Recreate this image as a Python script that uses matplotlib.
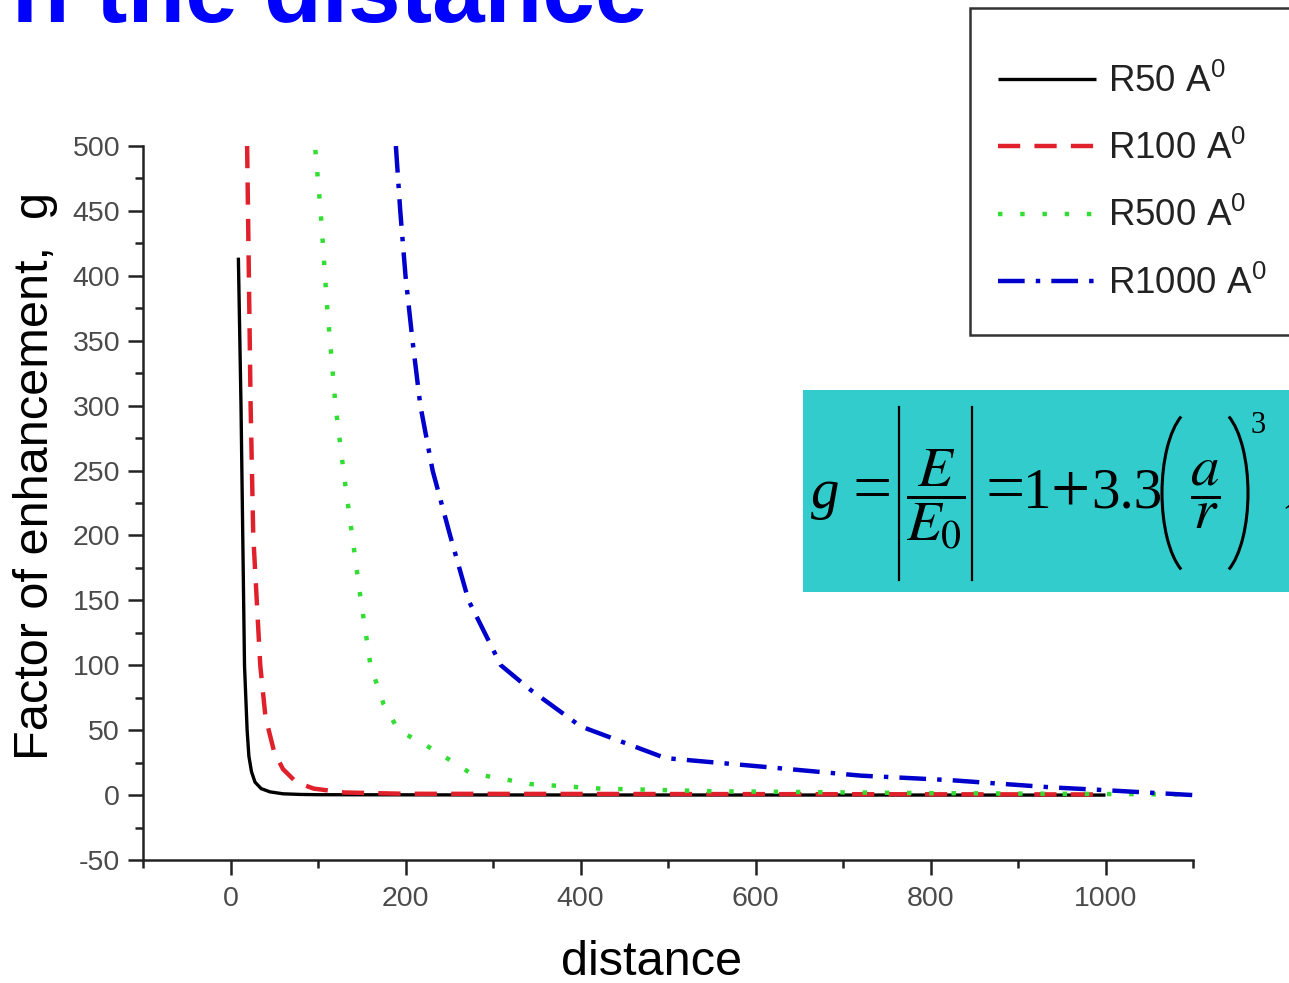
import matplotlib
matplotlib.use("Agg")
import matplotlib.pyplot as plt
from matplotlib.patches import Rectangle, Arc
from matplotlib.lines import Line2D
from matplotlib.ticker import MultipleLocator

plt.rcParams['font.family'] = ['Liberation Sans', 'DejaVu Sans']
plt.rcParams['mathtext.fontset'] = 'custom'
plt.rcParams['mathtext.rm'] = 'Liberation Sans'
plt.rcParams['mathtext.it'] = 'Liberation Sans:italic'
plt.rcParams['axes.unicode_minus'] = False

# enhancement factor g against distance, one curve per particle radius
r50_x = [9, 12, 14, 16, 19, 21, 24, 28, 35, 45, 60, 80, 100, 300, 1000]
r50_g = [414, 300, 200, 100, 50, 30, 18, 10, 5, 2.5, 1, 0.5, 0.3, 0.1, 0]

r100_x = [19, 21, 23, 26, 30, 34, 40, 50, 60, 75, 95, 130, 200, 1000]
r100_g = [500, 400, 300, 200, 150, 100, 60, 33, 20, 10, 5, 2, 1, 0.5]

r500_x = [97, 103, 110, 120, 130, 139, 149, 160, 175, 192, 232, 274, 343, 423, 550, 800, 1100]
r500_g = [497, 450, 380, 300, 245, 200, 150, 100, 70, 50, 35, 17, 8.5, 5, 3, 1.5, 0.5]

r1000_x = [189, 194, 200, 208, 217, 231, 251, 272, 309, 343, 400, 497, 606, 720, 823, 937, 994, 1100]
r1000_g = [500, 450, 400, 350, 300, 250, 200, 150, 100, 81, 53, 28.5, 22, 15, 11.5, 6, 4, 0]

legend_labels = ['R50 A$^0$', 'R100 A$^0$', 'R500 A$^0$', 'R1000 A$^0$']

W, H = 1289, 983
fig = plt.figure(figsize=(W / 100, H / 100), dpi=100)
ax = fig.add_axes([143 / W, 1 - 860 / H, (1193 - 143) / W, (860 - 146) / H])

l1, = ax.plot(r50_x, r50_g, color='black', lw=2.4, solid_capstyle='butt')
l2, = ax.plot(r100_x, r100_g, color='#e0202a', lw=3.2, dashes=(5, 3.2))
l3, = ax.plot(r500_x, r500_g, color='#33dd33', lw=3.2, linestyle=(0, (1, 4)))
l4, = ax.plot(r1000_x, r1000_g, color='#0000cc', lw=3.2, dashes=(6, 2.5, 1, 2.5))

ax.set_xlim(-100, 1100)
ax.set_ylim(-50, 500)
ax.xaxis.set_major_locator(MultipleLocator(200))
ax.xaxis.set_minor_locator(MultipleLocator(100))
ax.yaxis.set_major_locator(MultipleLocator(50))
ax.yaxis.set_minor_locator(MultipleLocator(25))

for side in ['top', 'right']:
    ax.spines[side].set_visible(False)
for side in ['left', 'bottom']:
    ax.spines[side].set_linewidth(1.8)
    ax.spines[side].set_color('#222222')

ax.tick_params(which='major', direction='out', length=10.5, width=1.8, color='#222222',
               labelsize=20.5, labelcolor='#4a4a4a', pad=6)
ax.tick_params(axis='x', which='major', pad=8)
ax.tick_params(which='minor', direction='out', length=5.5, width=1.8, color='#222222')

ax.set_xlabel('distance', fontsize=35)
ax.xaxis.set_label_coords(0.484, -0.112)
ax.set_ylabel('Factor of enhancement,  g', fontsize=35)
ax.yaxis.set_label_coords(-0.081, 0.538)

# legend sits above the axes, its frame runs off the right edge
leg = fig.legend([l1, l2, l3, l4], legend_labels, loc='upper left',
                 bbox_to_anchor=(998 / W, 1 - 64 / H), fontsize=26.5,
                 frameon=False, handlelength=2.65, handletextpad=0.35,
                 labelspacing=0.84, borderpad=0, borderaxespad=0)
for t in leg.get_texts():
    t.set_color('#222222')
fig.patches.append(Rectangle((970 / W, 1 - 335 / H), (W - 970) / W + 0.05, (335 - 8) / H,
                             transform=fig.transFigure, facecolor='white',
                             edgecolor='#333333', lw=1.8, zorder=0))

# cyan box with the formula g = |E/E0| = 1 + 3.3 (a/r)^3, laid out in pixels
fig.patches.append(Rectangle((803 / W, 1 - 592 / H), (W - 803) / W + 0.05, (592 - 390) / H,
                             transform=fig.transFigure, facecolor='#33cccc',
                             edgecolor='none', zorder=3))


def px(x, y):
    return x / W, 1 - y / H


base = 508
serif = dict(family='Liberation Serif', va='baseline', ha='left', zorder=4)
fig.text(*px(811, base), 'g', style='italic', fontsize=41, **serif)
for xpos, piece in [(1023, '1'), (1091, '3.3')]:
    fig.text(*px(xpos, base), piece, fontsize=41, **serif)
for xpos, piece in [(853, '='), (986, '='), (1051, '+')]:
    fig.text(*px(xpos, base + 3), piece, fontsize=50, **serif)
frac = dict(fontsize=41, math_fontfamily='stix', va='baseline', ha='center', zorder=4)
fig.text(*px(936, base), r'$\dfrac{E}{E_0}$', **frac)
fig.text(*px(1205, base), r'$\dfrac{a}{r}$', **frac)
fig.text(*px(1251, 433), '3', fontsize=22, family='Liberation Serif', ha='left',
         va='baseline', zorder=4)
fig.text(*px(1279, 526), '\u221a', fontsize=41, family='STIXGeneral', ha='left',
         va='baseline', zorder=4)

# absolute-value bars and tall parentheses
for xb in (899, 972):
    fig.add_artist(Line2D([xb / 100, xb / 100], [(H - 407) / 100, (H - 580) / 100],
                          transform=fig.dpi_scale_trans, color='black', lw=1.6, zorder=4))
fig.add_artist(Arc((1196 / 100, (H - 493) / 100), 0.68, 1.70, theta1=101, theta2=259,
                   transform=fig.dpi_scale_trans, color='black', lw=2.2, zorder=4))
fig.add_artist(Arc((1214 / 100, (H - 493) / 100), 0.68, 1.70, theta1=-79, theta2=79,
                   transform=fig.dpi_scale_trans, color='black', lw=2.2, zorder=4))

# heading of the slide, cut at the top
fig.text(647 / W, 1 - 22 / H, 'n the distance', fontsize=68, fontweight='bold',
         color='#0000ff', ha='right', va='baseline')

fig.savefig('out.png', dpi=100)
